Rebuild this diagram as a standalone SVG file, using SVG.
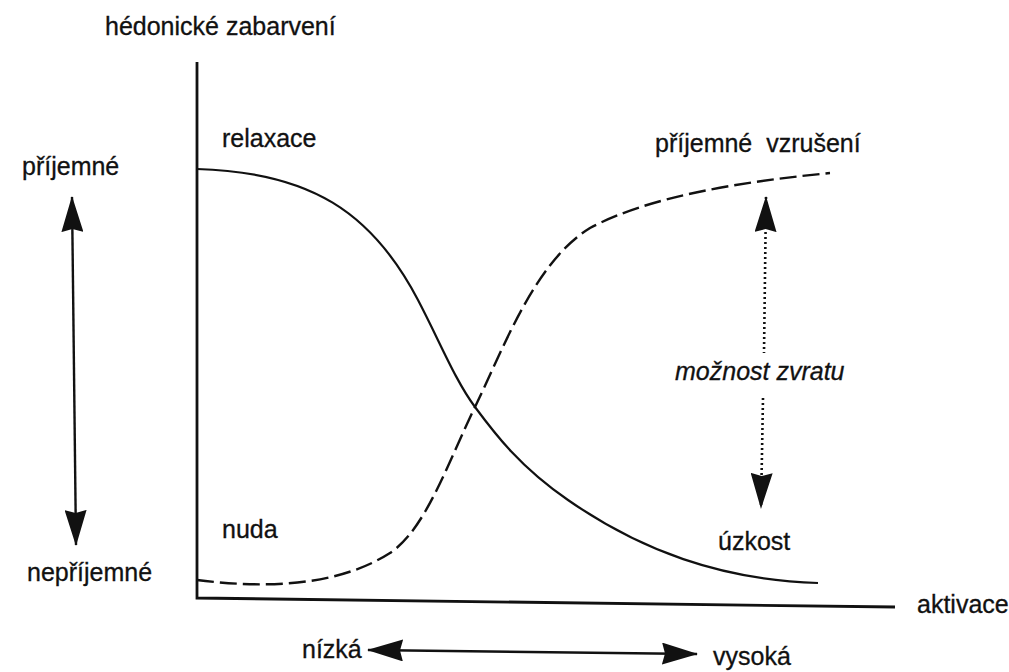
<svg xmlns="http://www.w3.org/2000/svg" width="1009" height="672" viewBox="0 0 1009 672">
<style>
text{font-family:"Liberation Sans",Arial,sans-serif;font-size:25px;fill:#111;stroke:#111;stroke-width:0.3}
.it{font-style:italic}
.axis{fill:none;stroke:#111;stroke-width:2.8}
.solid{fill:none;stroke:#111;stroke-width:2.2}
.dash{fill:none;stroke:#111;stroke-width:2.4;stroke-dasharray:17 6}
.dot{fill:none;stroke:#111;stroke-width:2.6;stroke-dasharray:2 3}
.arr{fill:none;stroke:#111;stroke-width:2.4}
</style>
<defs>
<marker id="ah" viewBox="0 0 36 22" refX="35" refY="11" markerWidth="36" markerHeight="22" markerUnits="userSpaceOnUse" orient="auto-start-reverse">
<path d="M0,0 L36,11 L0,22 L3,11 z" fill="#111"/>
</marker>
</defs>
<rect width="1009" height="672" fill="#fff"/>
<g id="axes">
<path class="axis" d="M197,62 L197,598 L895,607"/>
</g>
<g id="connectors">
<path class="solid" d="M197,169 C310,172 372,212 418,300 C440,342 455,380 475,407 C495,434 520,467 568,500 C640,550 720,580 818,583"/>
<path class="dash" d="M197,580 C260,588 335,588 390,553 C425,530 447,465 475,407 C505,345 535,262 590,228 C650,196 740,182 830,173"/>
<path class="arr" d="M72,197 L76,545" marker-start="url(#ah)" marker-end="url(#ah)"/>
<path class="arr" d="M368,650 L697,654" marker-start="url(#ah)" marker-end="url(#ah)"/>
<path class="dot" d="M766,197 L764,353" marker-start="url(#ah)"/>
<path class="dot" d="M763,398 L761,508" marker-end="url(#ah)"/>
</g>
<g id="label-y"><text x="105" y="35">hédonické zabarvení</text></g>
<g id="label-x"><text x="917" y="613">aktivace</text></g>
<g id="label-prijemne"><text x="22" y="175">příjemné</text></g>
<g id="label-neprijemne"><text x="27" y="581">nepříjemné</text></g>
<g id="label-relaxace"><text x="222" y="147">relaxace</text></g>
<g id="label-vzruseni"><text x="655" y="152" xml:space="preserve">příjemné  vzrušení</text></g>
<g id="label-zvrat"><text class="it" x="675" y="380">možnost zvratu</text></g>
<g id="label-nuda"><text x="222" y="538">nuda</text></g>
<g id="label-uzkost"><text x="718" y="550">úzkost</text></g>
<g id="label-nizka"><text x="302" y="658">nízká</text></g>
<g id="label-vysoka"><text x="713" y="665">vysoká</text></g>
</svg>
